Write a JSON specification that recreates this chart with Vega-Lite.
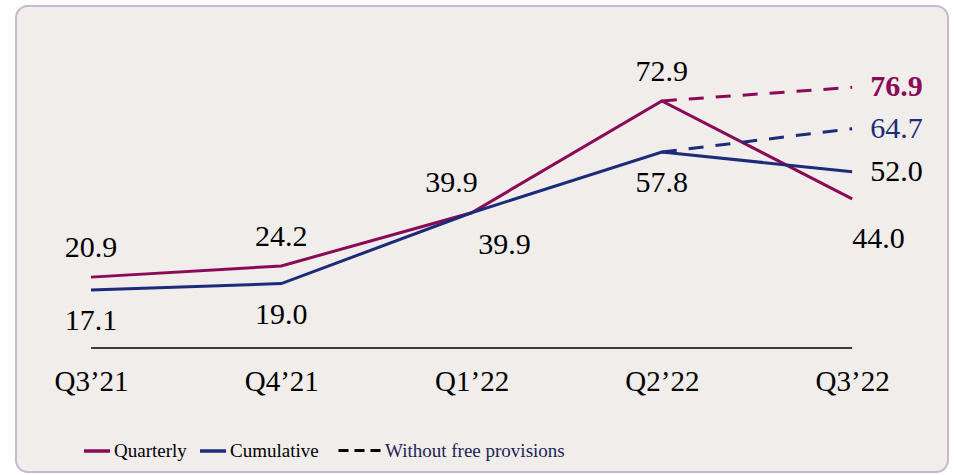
{
  "$schema": "https://vega.github.io/schema/vega-lite/v6.json",
  "width": 932,
  "height": 466,
  "autosize": {"type": "none"},
  "padding": {"left": 16, "top": 6, "right": 9, "bottom": 3},
  "background": "white",
  "config": {
    "view": {"fill": "#f0edea", "stroke": "#c6b8d2", "strokeWidth": 2, "cornerRadius": 12},
    "font": "Liberation Serif"
  },
  "data": {
    "values": [
      {"quarter": "Q3’21", "series": "Quarterly", "type": "Reported", "value": 20.9},
      {"quarter": "Q4’21", "series": "Quarterly", "type": "Reported", "value": 24.2},
      {"quarter": "Q1’22", "series": "Quarterly", "type": "Reported", "value": 39.9},
      {"quarter": "Q2’22", "series": "Quarterly", "type": "Reported", "value": 72.9},
      {"quarter": "Q3’22", "series": "Quarterly", "type": "Reported", "value": 44.0},
      {"quarter": "Q3’21", "series": "Cumulative", "type": "Reported", "value": 17.1},
      {"quarter": "Q4’21", "series": "Cumulative", "type": "Reported", "value": 19.0},
      {"quarter": "Q1’22", "series": "Cumulative", "type": "Reported", "value": 39.9},
      {"quarter": "Q2’22", "series": "Cumulative", "type": "Reported", "value": 57.8},
      {"quarter": "Q3’22", "series": "Cumulative", "type": "Reported", "value": 52.0},
      {"quarter": "Q2’22", "series": "Quarterly", "type": "Without free provisions", "value": 72.9},
      {"quarter": "Q3’22", "series": "Quarterly", "type": "Without free provisions", "value": 76.9},
      {"quarter": "Q2’22", "series": "Cumulative", "type": "Without free provisions", "value": 57.8},
      {"quarter": "Q3’22", "series": "Cumulative", "type": "Without free provisions", "value": 64.7}
    ]
  },
  "encoding": {
    "x": {
      "field": "quarter",
      "type": "ordinal",
      "sort": ["Q3’21", "Q4’21", "Q1’22", "Q2’22", "Q3’22"],
      "scale": {"type": "point", "padding": 0.449, "align": 0.439},
      "axis": {
        "orient": "bottom",
        "offset": -124,
        "domain": false,
        "ticks": false,
        "tickSize": 0,
        "grid": false,
        "labelAngle": 0,
        "labelBaseline": "middle",
        "labelPadding": 33,
        "labelFont": "Liberation Serif",
        "labelFontSize": 29,
        "labelColor": "#000000",
        "title": null
      }
    },
    "y": {
      "field": "value",
      "type": "quantitative",
      "scale": {"domain": [-36.6, 100.9], "nice": false, "zero": false},
      "axis": null
    }
  },
  "layer": [
    {
      "transform": [{"filter": "datum.type == 'Reported' && datum.series == 'Quarterly'"}],
      "mark": {"type": "line", "color": "#000000", "strokeWidth": 1.5},
      "encoding": {
        "y": {"datum": 0}
      }
    },
    {
      "transform": [{"filter": "datum.type == 'Reported'"}],
      "mark": {"type": "line", "strokeWidth": 3, "strokeCap": "butt"},
      "encoding": {
        "color": {
          "field": "series",
          "type": "nominal",
          "scale": {"domain": ["Quarterly", "Cumulative"], "range": ["#8a0a57", "#1c2b7a"]},
          "legend": {
            "orient": "none",
            "legendX": 66,
            "legendY": 430,
            "direction": "horizontal",
            "title": null,
            "padding": 0,
            "symbolType": "stroke",
            "symbolSize": 676,
            "symbolStrokeWidth": 3.5,
            "labelFont": "Liberation Serif",
            "labelFontSize": 19,
            "labelColor": "#000000",
            "labelOffset": 2,
            "columnPadding": 6,
            "labelLimit": 400
          }
        }
      }
    },
    {
      "transform": [{"filter": "datum.type == 'Without free provisions'"}],
      "mark": {"type": "line", "strokeWidth": 3, "strokeCap": "butt", "strokeDash": [15, 12]},
      "encoding": {
        "color": {"field": "series", "type": "nominal"}
      }
    },
    {
      "transform": [{"filter": "false"}],
      "mark": {"type": "line", "strokeWidth": 3, "color": "#000000"},
      "encoding": {
        "strokeDash": {
          "field": "type",
          "type": "nominal",
          "scale": {"domain": ["Without free provisions"], "range": [[10, 6]]},
          "legend": {
            "orient": "none",
            "legendX": 321,
            "legendY": 422,
            "direction": "horizontal",
            "title": null,
            "padding": 0,
            "symbolType": "stroke",
            "symbolSize": 1764,
            "symbolStrokeWidth": 3,
            "symbolStrokeColor": "#000000",
            "labelFont": "Liberation Serif",
            "labelFontSize": 19,
            "labelColor": "#1c2357",
            "labelOffset": 3,
            "labelLimit": 400,
            "encode": {"symbols": {"update": {"stroke": {"value": "#000000"}, "opacity": {"value": 1}}}}
          }
        }
      }
    },
    {
      "transform": [{"filter": "datum.type == 'Reported' && datum.series == 'Quarterly' && (datum.quarter == 'Q3’21' || datum.quarter == 'Q4’21' || datum.quarter == 'Q2’22')"}],
      "mark": {"type": "text", "font": "Liberation Serif", "fontSize": 30, "color": "#000000", "baseline": "middle", "align": "center", "dy": -29},
      "encoding": {"text": {"field": "value", "format": ".1f"}}
    },
    {
      "transform": [{"filter": "datum.type == 'Reported' && datum.series == 'Cumulative' && (datum.quarter == 'Q3’21' || datum.quarter == 'Q4’21' || datum.quarter == 'Q2’22')"}],
      "mark": {"type": "text", "font": "Liberation Serif", "fontSize": 30, "color": "#000000", "baseline": "middle", "align": "center", "dy": 31},
      "encoding": {"text": {"field": "value", "format": ".1f"}}
    },
    {
      "transform": [{"filter": "datum.type == 'Reported' && datum.series == 'Quarterly' && datum.quarter == 'Q1’22'"}],
      "mark": {"type": "text", "font": "Liberation Serif", "fontSize": 30, "color": "#000000", "baseline": "middle", "align": "center", "dx": -20, "dy": -30},
      "encoding": {"text": {"field": "value", "format": ".1f"}}
    },
    {
      "transform": [{"filter": "datum.type == 'Reported' && datum.series == 'Cumulative' && datum.quarter == 'Q1’22'"}],
      "mark": {"type": "text", "font": "Liberation Serif", "fontSize": 30, "color": "#000000", "baseline": "middle", "align": "center", "dx": 33, "dy": 32},
      "encoding": {"text": {"field": "value", "format": ".1f"}}
    },
    {
      "transform": [{"filter": "datum.type == 'Without free provisions' && datum.series == 'Quarterly' && datum.quarter == 'Q3’22'"}],
      "mark": {"type": "text", "font": "Liberation Serif", "fontSize": 30, "fontWeight": "bold", "color": "#8a0a57", "baseline": "middle", "align": "left", "dx": 18},
      "encoding": {"text": {"field": "value", "format": ".1f"}}
    },
    {
      "transform": [{"filter": "datum.type == 'Without free provisions' && datum.series == 'Cumulative' && datum.quarter == 'Q3’22'"}],
      "mark": {"type": "text", "font": "Liberation Serif", "fontSize": 30, "color": "#1c2b7a", "baseline": "middle", "align": "left", "dx": 18},
      "encoding": {"text": {"field": "value", "format": ".1f"}}
    },
    {
      "transform": [{"filter": "datum.type == 'Reported' && datum.series == 'Cumulative' && datum.quarter == 'Q3’22'"}],
      "mark": {"type": "text", "font": "Liberation Serif", "fontSize": 30, "color": "#000000", "baseline": "middle", "align": "left", "dx": 18},
      "encoding": {"text": {"field": "value", "format": ".1f"}}
    },
    {
      "transform": [{"filter": "datum.type == 'Reported' && datum.series == 'Quarterly' && datum.quarter == 'Q3’22'"}],
      "mark": {"type": "text", "font": "Liberation Serif", "fontSize": 30, "color": "#000000", "baseline": "middle", "align": "left", "dx": 0, "dy": 40},
      "encoding": {"text": {"field": "value", "format": ".1f"}}
    }
  ]
}
